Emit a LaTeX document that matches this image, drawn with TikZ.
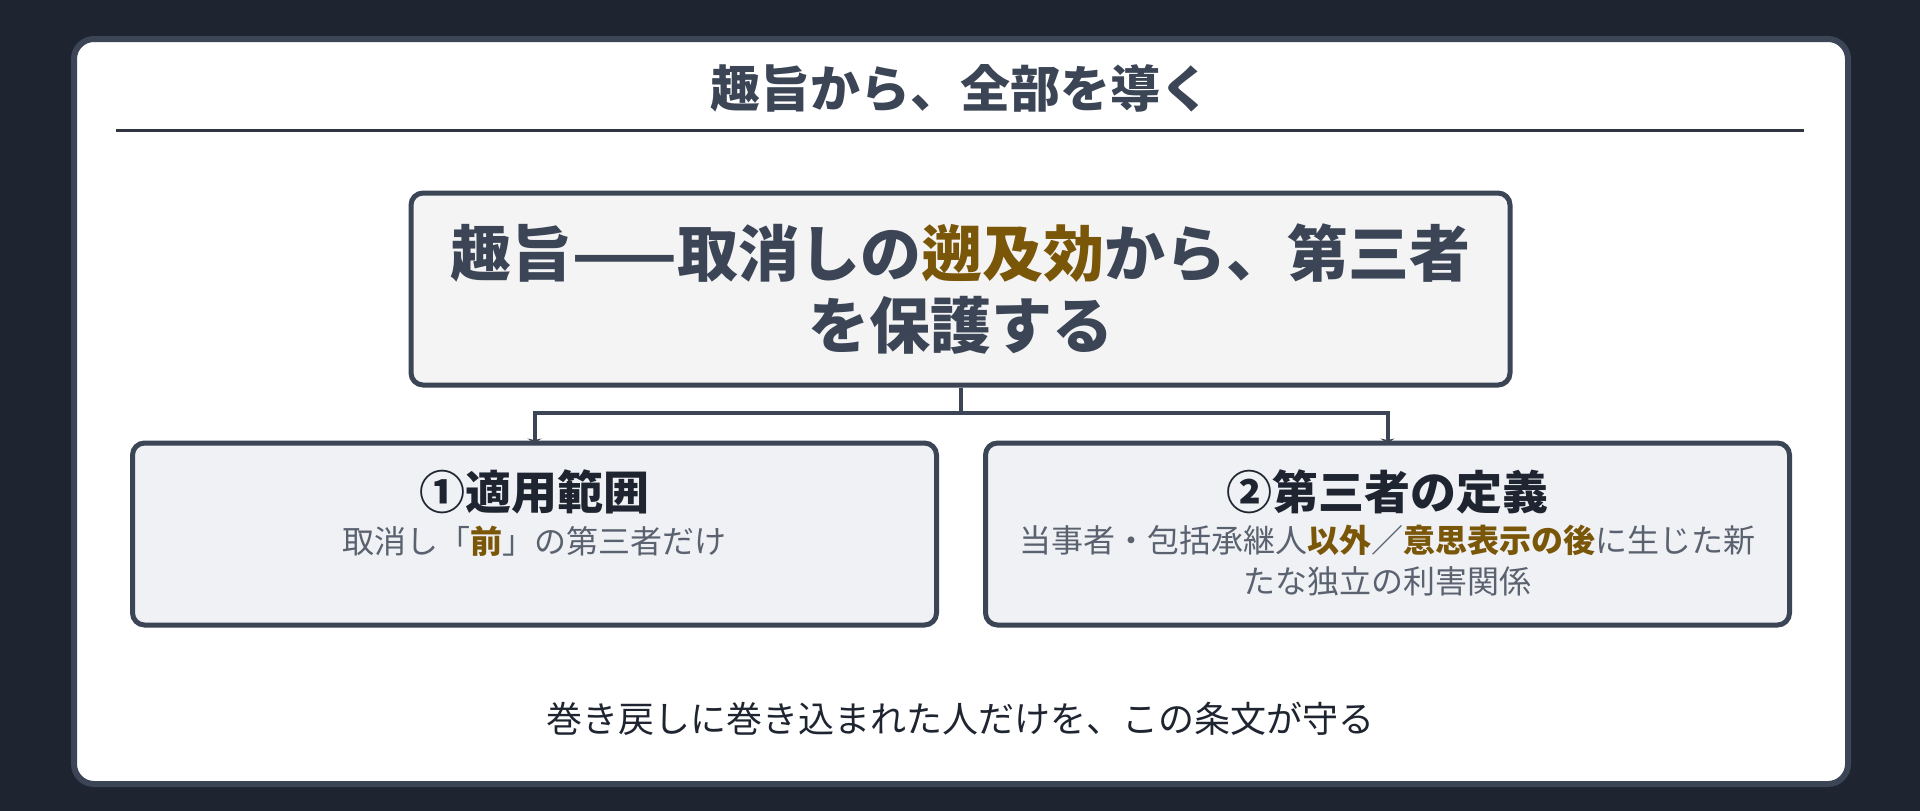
\documentclass[tikz,border=0pt]{standalone}
\usepackage{fontspec}
\setmainfont{Noto Sans CJK JP}
\usetikzlibrary{arrows.meta}
\definecolor{bgdark}{HTML}{1E2530}
\definecolor{slateline}{HTML}{3B4555}
\definecolor{ruleline}{HTML}{2E3440}
\definecolor{thesisfill}{HTML}{F4F4F5}
\definecolor{pointfill}{HTML}{EFF1F5}
\definecolor{headink}{HTML}{1F2530}
\definecolor{subink}{HTML}{5A6270}
\definecolor{goldink}{HTML}{7A5608}
\newcommand{\hl}[1]{\textbf{\textcolor{goldink}{#1}}}
\tikzset{
  thesisbox/.style={draw=slateline, line width=5, fill=thesisfill, rounded corners=12,
    minimum width=1099, minimum height=192, align=center, text=slateline,
    font=\fontsize{61}{72}\selectfont\bfseries},
  pointbox/.style={draw=slateline, line width=5, fill=pointfill, rounded corners=12,
    minimum width=804, minimum height=182},
  pointhead/.style={text=headink, font=\fontsize{46}{52}\selectfont\bfseries},
  pointtext/.style={text=subink, align=center, font=\fontsize{32}{41}\selectfont},
  conn/.style={draw=slateline, line width=4, shorten >=-3, -{Stealth[length=5,width=14]}}
}
\begin{document}
\begin{tikzpicture}[x=1pt,y=-1pt]
    \useasboundingbox[fill=bgdark] (0,0) rectangle (1920,811);
    \draw[slateline, line width=6, fill=white, rounded corners=20] (74,39) rectangle (1848,784);
    \node[text=slateline, font=\fontsize{50}{56}\selectfont\bfseries] (title) at (960,88) {趣旨から、全部を導く};
    \draw[ruleline, line width=3] (116,130) -- (1804,130);
    \node[thesisbox] (thesis) at (960.5,289) {趣旨——取消しの\hl{遡及効}から、第三者\\を保護する};
    \node[pointbox] (scope) at (534.5,534) {};
    \node[pointbox] (third) at (1387.5,534) {};
    \coordinate (split) at (960.5,413);
    \draw[conn] (thesis.south) -- (split) -| (scope.north);
    \draw[conn] (split) -| (third.north);
    \node[pointhead] (scopehead) at (534.5,492) {①適用範囲};
    \node[pointtext] (scopetext) at (534.5,541) {取消し「\hl{前}」の第三者だけ};
    \node[pointhead] (thirdhead) at (1387.5,492) {②第三者の定義};
    \node[pointtext] (thirdtext) at (1387.5,561) {当事者・包括承継人\hl{以外}／\hl{意思表示の後}に生じた新\\たな独立の利害関係};
    \node[text=headink, font=\fontsize{36}{42}\selectfont] (closing) at (960,719) {巻き戻しに巻き込まれた人だけを、この条文が守る};
\end{tikzpicture}
\end{document}
